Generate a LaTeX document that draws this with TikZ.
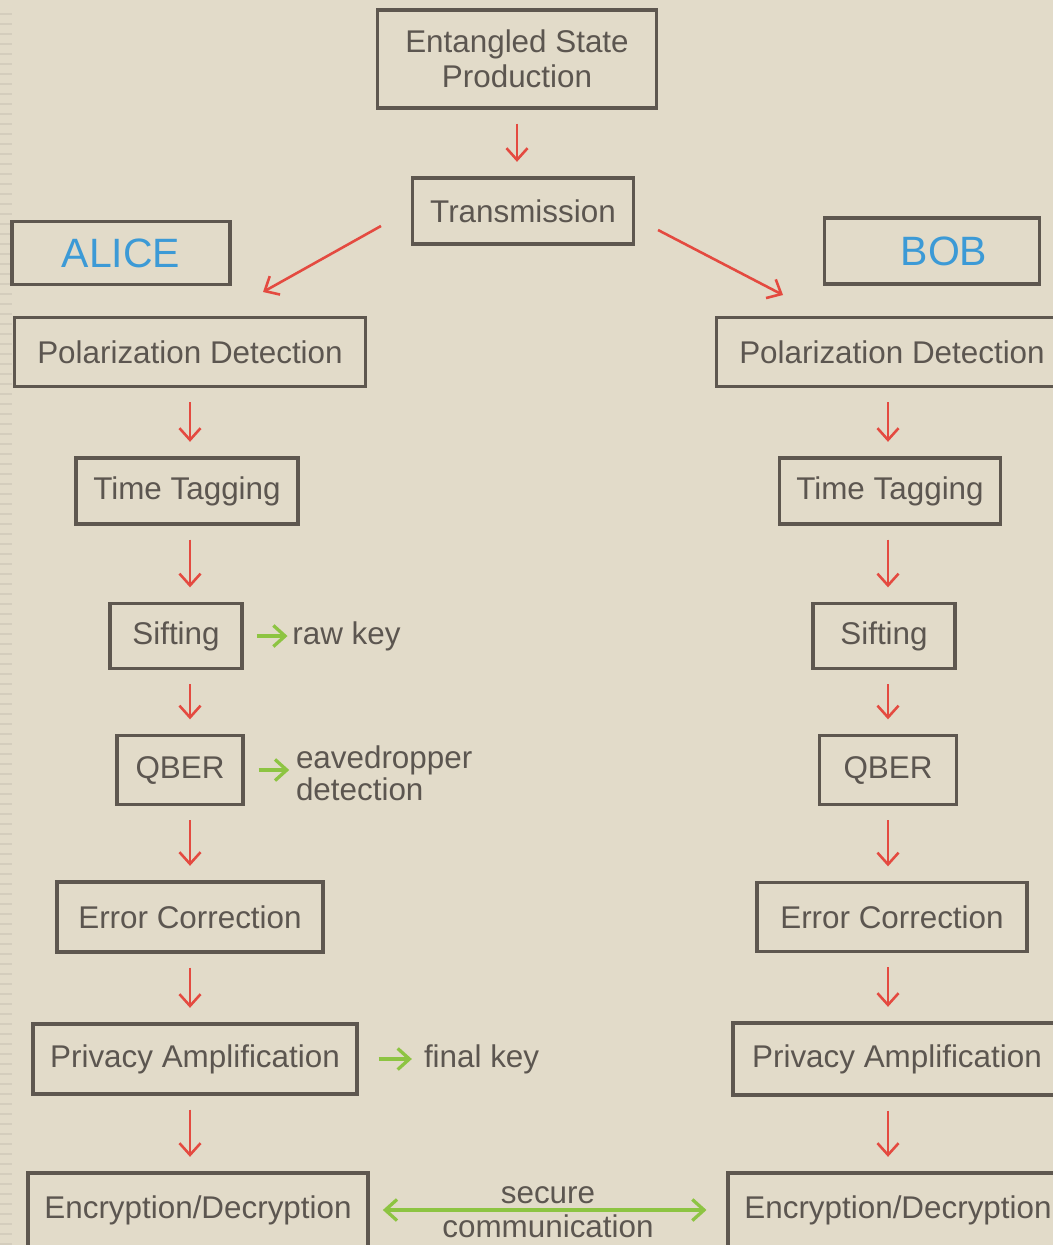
\documentclass[tikz,border=0pt]{standalone}
\usepackage{fontspec}
\setmainfont{Liberation Sans}
\usetikzlibrary{positioning, arrows.meta, calc}

\definecolor{paper}{RGB}{226,219,201}
\definecolor{frame}{RGB}{94,87,79}
\definecolor{ink}{RGB}{92,86,80}
\definecolor{arrowred}{RGB}{228,74,64}
\definecolor{keygreen}{RGB}{141,196,66}
\definecolor{nameblue}{RGB}{60,154,214}
\definecolor{ruler}{RGB}{212,205,189}

\begin{document}
\begin{tikzpicture}[
    x = 0.015cm, y = -0.015cm, % one unit = one pixel of the original
    box/.style={draw=frame, line width=1.3pt, text=ink, align=center, inner sep=0pt,
        font=\fontsize{13.4}{15}\selectfont},
    wh/.style 2 args={minimum width=#1*0.015cm, minimum height=#2*0.015cm},
    who/.style={box, text=nameblue, font=\fontsize{17.5}{20}\selectfont},
    note/.style={text=ink, inner sep=1pt, align=left, font=\fontsize{13.4}{14}\selectfont},
    flow/.style={draw=arrowred, line width=1.1pt, -{Straight Barb[length=5pt, width=9pt]},
        shorten <=0.21cm, shorten >=0.22cm},
    link/.style={draw=keygreen, line width=1.4pt, -{Straight Barb[length=5pt, width=9pt]}}
]

% --- Page and background ---
\useasboundingbox (0,0) rectangle (1053,1245);
\clip (0,0) rectangle (1053,1245);
\fill[paper] (0,0) rectangle (1053,1245);
\foreach \y in {14,24,...,1244}
    \draw[ruler, line width=0.8pt] (0,\y) -- (12,\y);

% --- TOP: source and channel ---
\node[box, wh={279}{98}] (ent) at (517,59) {Entangled State\\Production};
\node[box, wh={221}{66}] (trans) at (523,211) {Transmission};

% --- The two parties ---
\node[who, wh={218}{63}] (alice) at (121,253) {ALICE};
\node[who, wh={215}{66}] (bob) at (932,251) {\hspace*{0.36cm}BOB};

% --- LEFT SIDE: Alice ---
\node[box, wh={351}{69}] (polA) at (190,352) {Polarization Detection};
\node[box, wh={222}{66}] (timeA) at (187,491) {Time Tagging};
\node[box, wh={132}{65}] (siftA) at (176,636) {Sifting};
\node[box, wh={126}{69}] (qberA) at (180,770) {QBER};
\node[box, wh={266}{70}] (errA) at (190,917) {Error Correction};
\node[box, wh={324}{70}] (privA) at (195,1059) {Privacy Amplification};
\node[box, wh={340}{74}] (encA) at (198,1210) {Encryption/Decryption};

% --- RIGHT SIDE: Bob ---
\node[box, wh={351}{69}] (polB) at (892,352) {Polarization Detection};
\node[box, wh={221}{66}] (timeB) at (890,491) {Time Tagging};
\node[box, wh={142}{65}] (siftB) at (884,636) {Sifting};
\node[box, wh={137}{69}] (qberB) at (888,770) {QBER};
\node[box, wh={270}{69}] (errB) at (892,917) {Error Correction};
\node[box, wh={328}{72}] (privB) at (897,1059) {Privacy Amplification};
\node[box, wh={340}{74}] (encB) at (898,1210) {Encryption/Decryption};

% Side results on Alice's side
\node[note, right=0.69cm of siftA] (rawkey) {raw key};
\node[note, right=0.73cm of qberA, yshift=-0.05cm] (eave) {eavedropper\\detection};
\node[note, right=0.94cm of privA] (final) {final key};

% Columns of the vertical arrows
\coordinate (colA) at (190,0);
\coordinate (colB) at (888,0);
\coordinate (aliceIn) at (263,292);
\coordinate (bobIn) at (783,295);

% Red arrows: source and channel
\draw[flow] (ent.south) -- (ent.south |- trans.north);
\draw[flow, shorten <=0pt, shorten >=0pt] ([shift={(-30,15)}]trans.west) -- (aliceIn);
\draw[flow, shorten <=0pt, shorten >=0pt] ([shift={(23,19)}]trans.east) -- (bobIn);

% Red arrows: Alice
\draw[flow] (polA.south -| colA) -- (timeA.north -| colA);
\draw[flow] (timeA.south -| colA) -- (siftA.north -| colA);
\draw[flow] (siftA.south -| colA) -- (qberA.north -| colA);
\draw[flow] (qberA.south -| colA) -- (errA.north -| colA);
\draw[flow] (errA.south -| colA) -- (privA.north -| colA);
\draw[flow] (privA.south -| colA) -- (encA.north -| colA);

% Red arrows: Bob
\draw[flow] (polB.south -| colB) -- (timeB.north -| colB);
\draw[flow] (timeB.south -| colB) -- (siftB.north -| colB);
\draw[flow] (siftB.south -| colB) -- (qberB.north -| colB);
\draw[flow] (qberB.south -| colB) -- (errB.north -| colB);
\draw[flow] (errB.south -| colB) -- (privB.north -| colB);
\draw[flow] (privB.south -| colB) -- (encB.north -| colB);

% Green arrows: results
\draw[link, shorten <=0.2cm, shorten >=0.03cm] (siftA) -- (rawkey);
\draw[link, shorten <=0.21cm, shorten >=0.06cm] (qberA) -- (eave.west |- qberA);
\draw[link, shorten <=0.3cm, shorten >=0.14cm] (privA) -- (final);
\draw[link, {Straight Barb[length=5pt, width=9pt]}-{Straight Barb[length=5pt, width=9pt]},
    shorten <=0.2cm, shorten >=0.3cm] (encA) --
    node[note, above=1pt] (secure) {secure}
    node[note, below=0.5pt] (comm) {communication} (encB);

\end{tikzpicture}
\end{document}
